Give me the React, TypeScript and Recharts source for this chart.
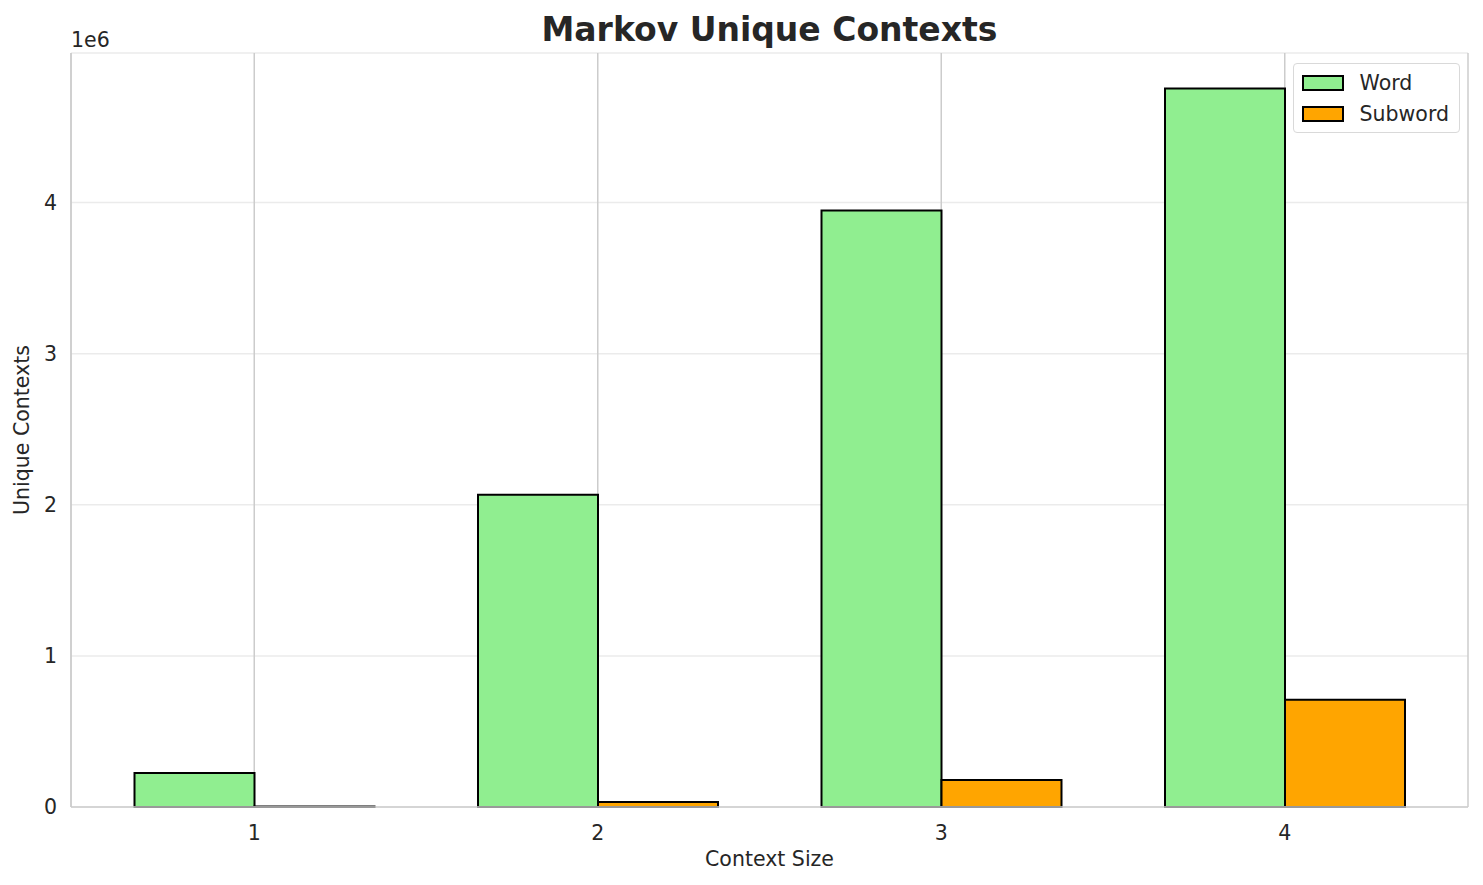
import React from 'react'
import { BarChart, Bar, XAxis, YAxis, CartesianGrid, Label } from 'recharts'

const contextSizes = ['1', '2', '3', '4']
const wordContexts = [225000, 2066000, 3947000, 4755000]
const subwordContexts = [3000, 33000, 179000, 709000]
const yTicks = [0, 1e6, 2e6, 3e6, 4e6]

const FONT = '"DejaVu Sans", sans-serif'
const TEXT = '#262626'
const FS = 20.5

const data = contextSizes.map((c, i) => ({ size: c, word: wordContexts[i], subword: subwordContexts[i] }))

const legendItems = [
  { name: 'Word', color: '#90EE90' },
  { name: 'Subword', color: '#FFA500' },
]

function LegendBox() {
  return (
    <div style={{ position: 'absolute', right: 23, top: 63, background: 'rgba(255,255,255,0.8)', border: '1px solid #d9d9d9', borderRadius: 4, padding: '3px 10px 3px 8px', fontSize: FS, color: TEXT }}>
      {legendItems.map(it => (
        <div key={it.name} style={{ display: 'flex', alignItems: 'center', height: 31 }}>
          <span style={{ display: 'inline-block', width: 38, height: 12, background: it.color, border: '2px solid #000', marginRight: 16 }} />
          {it.name}
        </div>
      ))}
    </div>
  )
}

export default function App() {
  return (
    <div style={{ position: 'absolute', left: 0, top: 0, width: 1483, height: 885, background: '#fff', fontFamily: FONT }}>
      <BarChart width={1483} height={885} data={data} margin={{ top: 53, right: 15, left: 0, bottom: 0 }} barGap={0} barSize={120}>
        <CartesianGrid horizontal vertical={false} stroke="#ebebeb" strokeWidth={1.5} />
        <CartesianGrid horizontal={false} vertical stroke="#cccccc" strokeWidth={1.5} />
        <XAxis dataKey="size" height={78} padding={{ left: 11.5, right: 11.5 }} tickLine={false} axisLine={{ stroke: '#cccccc', strokeWidth: 1.5 }} tick={{ fill: TEXT, fontSize: FS, fontFamily: FONT }} dy={10}>
          <Label value="Context Size" position="insideBottom" offset={19} style={{ fill: TEXT, fontSize: FS, fontFamily: FONT }} />
        </XAxis>
        <XAxis xAxisId="top" orientation="top" dataKey="size" height={0} tick={false} tickLine={false} axisLine={{ stroke: '#cccccc', strokeWidth: 1.5 }} padding={{ left: 11.5, right: 11.5 }} />
        <YAxis width={71} domain={[0, 4.99e6]} ticks={yTicks} tickFormatter={v => String(v / 1e6)} tickLine={false} axisLine={{ stroke: '#cccccc', strokeWidth: 1.5 }} tick={{ fill: TEXT, fontSize: FS, fontFamily: FONT }} dx={-6}>
          <Label value="Unique Contexts" angle={-90} position="insideLeft" offset={22} style={{ fill: TEXT, fontSize: FS, fontFamily: FONT, textAnchor: 'middle' }} />
        </YAxis>
        <YAxis yAxisId="right" orientation="right" width={0} domain={[0, 4.99e6]} tick={false} tickLine={false} axisLine={{ stroke: '#cccccc', strokeWidth: 1.5 }} />
        <Bar dataKey="word" name="Word" fill="#90EE90" stroke="#000" strokeWidth={2} isAnimationActive={false} />
        <Bar dataKey="subword" name="Subword" fill="#FFA500" stroke="#000" strokeWidth={2} isAnimationActive={false} />
      </BarChart>
      <div style={{ position: 'absolute', left: 71, width: 1397, top: 10, textAlign: 'center', fontSize: 33, fontWeight: 'bold', color: TEXT }}>
        Markov Unique Contexts
      </div>
      <div style={{ position: 'absolute', left: 71, top: 28, fontSize: FS, color: TEXT }}>1e6</div>
      <LegendBox />
    </div>
  )
}
